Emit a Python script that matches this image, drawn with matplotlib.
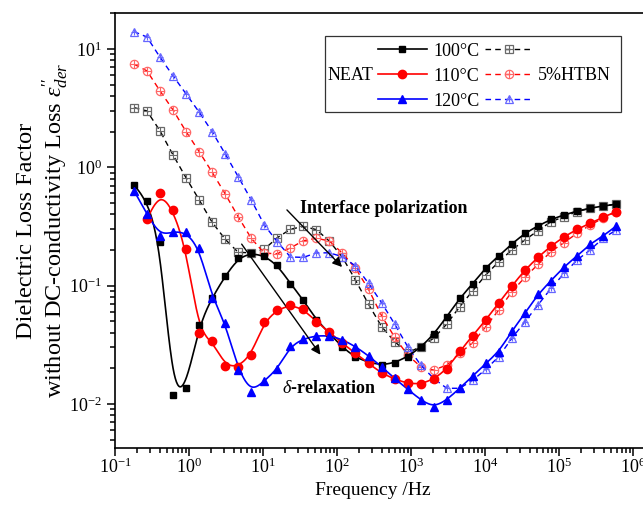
import numpy as np
import matplotlib.pyplot as plt
from matplotlib.lines import Line2D
from matplotlib.patches import Rectangle
from matplotlib.legend_handler import HandlerTuple

plt.rcParams["font.family"] = ["Liberation Serif", "DejaVu Serif"]
plt.rcParams["mathtext.fontset"] = "custom"
plt.rcParams["mathtext.rm"] = "Liberation Serif"
plt.rcParams["mathtext.it"] = "Liberation Serif:italic"
plt.rcParams["mathtext.bf"] = "Liberation Serif:bold"

# measurement frequencies (Hz)
freq = [0.18, 0.27, 0.405, 0.608, 0.911, 1.37, 2.05, 3.08, 4.61, 6.92,
        10.4, 15.6, 23.4, 35.0, 52.6, 78.8, 118, 177, 266, 399,
        599, 898, 1350, 2020, 3030, 4550, 6820, 10200, 15300, 23000,
        34500, 51800, 77700, 117000, 175000, 262000, 393000, 590000]

# NEAT epoxy, eps''_der
neat_100 = [0.708, 0.522, 0.232, 0.0120, 0.0137, 0.0465, 0.079, 0.120, 0.170, 0.188,
            0.178, 0.149, 0.104, 0.0755, 0.0512, 0.0395, 0.0301, 0.0247, 0.0225, 0.0213,
            0.0223, 0.0251, 0.0301, 0.0387, 0.0546, 0.0782, 0.104, 0.142, 0.178, 0.225,
            0.277, 0.319, 0.363, 0.395, 0.427, 0.450, 0.471, 0.487]
neat_110 = [0.363, 0.610, 0.436, 0.204, 0.040, 0.0342, 0.0209, 0.0206, 0.0259,
            0.0495, 0.0622, 0.0686, 0.0631, 0.0495, 0.0403, 0.0325, 0.0268, 0.0220, 0.0182,
            0.0162, 0.0149, 0.0147, 0.0162, 0.0196, 0.0280, 0.0377, 0.0512, 0.0716, 0.0993,
            0.1355, 0.1735, 0.216, 0.259, 0.299, 0.336, 0.378, 0.422]
neat_120 = [0.634, 0.403, 0.264, 0.286, 0.282, 0.209, 0.0791, 0.0486, 0.0194, 0.0125,
            0.0157, 0.0196, 0.0308, 0.0354, 0.0377, 0.0377, 0.0350, 0.0305, 0.0255, 0.0206,
            0.0164, 0.0133, 0.0108, 0.00936, 0.0108, 0.0136, 0.0172, 0.0220, 0.0276, 0.0413,
            0.0583, 0.0844, 0.110, 0.1445, 0.178, 0.225, 0.262, 0.319]

# 5% HTBN modified epoxy
htbn_100 = [3.19, 2.99, 2.03, 1.27, 0.815, 0.530, 0.343, 0.246, 0.191, 0.189,
            0.203, 0.254, 0.299, 0.316, 0.297, 0.237, 0.1735, 0.1114, 0.0695, 0.0450,
            0.0336, 0.0270, 0.0305, 0.0359, 0.0473, 0.0664, 0.0906, 0.123, 0.159, 0.200,
            0.243, 0.291, 0.347, 0.382, 0.422, 0.450, 0.471, 0.487]
htbn_110 = [7.43, 6.52, 4.42, 3.05, 2.00, 1.355, 0.908, 0.595, 0.382, 0.251,
            0.1875, 0.186, 0.208, 0.239, 0.251, 0.238, 0.1875, 0.140, 0.093, 0.0557,
            0.0366, 0.0259, 0.0206, 0.0193, 0.0213, 0.0269, 0.0329, 0.0450, 0.0622, 0.0888,
            0.1175, 0.151, 0.194, 0.231, 0.277, 0.325, 0.371, 0.422]
htbn_120 = [14.0, 12.6, 8.51, 5.92, 4.17, 2.92, 2.00, 1.295, 0.833, 0.530,
            0.325, 0.234, 0.1745, 0.173, 0.189, 0.189, 0.1755, 0.1465, 0.1045, 0.0716,
            0.0473, 0.0305, 0.0213, 0.0164, 0.01355, 0.01355, 0.0159, 0.0196, 0.0251, 0.0359,
            0.0495, 0.0686, 0.0948, 0.127, 0.1644, 0.200, 0.251, 0.295]

temps = ["100°C", "110°C", "120°C"]
neat_colors = ["#000000", "#ff0000", "#0000ff"]
htbn_edge = ["#6a6a6a", "#ff6666", "#6666ff"]
neat_markers = ["s", "o", "^"]


def bspline(x, y, n=24):
    # uniform cubic B-spline through log-log control points, clamped ends
    lx = np.log10(x)
    ly = np.log10(y)
    px = np.concatenate([[lx[0]] * 2, lx, [lx[-1]] * 2])
    py = np.concatenate([[ly[0]] * 2, ly, [ly[-1]] * 2])
    t = np.linspace(0, 1, n)
    b0 = (1 - t) ** 3 / 6
    b1 = (3 * t ** 3 - 6 * t ** 2 + 4) / 6
    b2 = (-3 * t ** 3 + 3 * t ** 2 + 3 * t + 1) / 6
    b3 = t ** 3 / 6
    xs, ys = [], []
    for i in range(len(px) - 3):
        xs.append(b0 * px[i] + b1 * px[i + 1] + b2 * px[i + 2] + b3 * px[i + 3])
        ys.append(b0 * py[i] + b1 * py[i + 1] + b2 * py[i + 2] + b3 * py[i + 3])
    return 10 ** np.concatenate(xs), 10 ** np.concatenate(ys)


fig = plt.figure(figsize=(6.43, 5.08), dpi=100)
ax = fig.add_axes([115 / 643, 60 / 508, 533 / 643, 435 / 508])
ax.set_xscale("log")
ax.set_yscale("log")

f = np.array(freq)
neat = [(f, neat_100), (f[1:], neat_110), (f, neat_120)]
htbn = [htbn_100, htbn_110, htbn_120]

handles_neat, handles_htbn = [], []
for k in range(3):
    ln, = ax.plot(f, htbn[k], color=neat_colors[k], lw=1.0, ls=(0, (4, 3)),
                  marker=neat_markers[k], ms=6 if k != 0 else 5.5, mfc="none",
                  mec=htbn_edge[k], mew=0.9, zorder=2)
    pl, = ax.plot(f, htbn[k], ls="none", marker="+", ms=5.5 if k != 2 else 4.5,
                  mec=htbn_edge[k], mew=0.8, zorder=2)
    handles_htbn.append((ln, pl))

for k in range(3):
    fx, fy = neat[k]
    sx, sy = bspline(fx, fy)
    ax.plot(sx, sy, color=neat_colors[k], lw=1.2, zorder=3)
    ax.plot(fx, fy, ls="none", marker=neat_markers[k], ms=5 if k == 0 else 6,
            color=neat_colors[k], zorder=4)
    handles_neat.append(Line2D([], [], color=neat_colors[k], lw=1.2,
                               marker=neat_markers[k], ms=5 if k == 0 else 6))

ax.set_xlim(0.1, 10 ** 6.2)
ax.set_ylim(0.00424, 20.1)

ax.spines["right"].set_visible(False)
for s in ax.spines.values():
    s.set_linewidth(1.2)
ax.tick_params(which="both", direction="out", width=1.1, labelsize=13, top=False, right=False)
ax.tick_params(which="major", length=6)
ax.tick_params(which="minor", length=3.5)
ax.tick_params(axis="x", which="major", pad=1)

ax.set_xlabel("Frequency /Hz", fontsize=14)
ax.xaxis.set_label_coords((373 - 115) / 533, -0.078)
ax.set_ylabel("Dielectric Loss Factor\nwithout DC-conductivity Loss $\\varepsilon^{\\prime\\prime}_{der}$",
              fontsize=17.5, linespacing=1.15)
ax.yaxis.set_label_coords((70 - 115) / 533, 0.5)

# process arrows
ax.annotate("", xy=(124, 0.138), xytext=(19.8, 0.453),
            arrowprops=dict(arrowstyle="-|>", color="black", lw=1.0, mutation_scale=14))
ax.annotate("", xy=(62.7, 0.0249), xytext=(4.89, 0.234),
            arrowprops=dict(arrowstyle="-|>", color="black", lw=1.0, mutation_scale=14))
ax.text(31.6, 0.445, "Interface polarization", fontsize=13, fontweight="bold",
        va="center", ha="left")
ax.text(18.1, 0.0134, "$\\mathit{\\delta}$-relaxation", fontsize=13, fontweight="bold",
        va="center", ha="left")

# legend: NEAT column with filled markers, 5%HTBN column with crossed open markers
leg = ax.legend(handles_neat + handles_htbn, temps + ["", "", ""], ncol=2,
                handler_map={tuple: HandlerTuple(ndivide=1)},
                loc="upper left", bbox_to_anchor=(378 / 643, 1 - 42.5 / 508),
                bbox_transform=fig.transFigure, frameon=False, fontsize=13,
                handlelength=2.7, handletextpad=0.35, columnspacing=0.3,
                labelspacing=0.45, borderpad=0, borderaxespad=0)
fig.add_artist(Rectangle((325 / 643, 1 - 112 / 508), 296 / 643, 76 / 508,
                         transform=fig.transFigure, fill=False, ec="#333333", lw=0.9))
fig.text(328 / 643, 1 - 75 / 508, "NEAT", fontsize=13, va="center", ha="left")
fig.text(538 / 643, 1 - 75 / 508, "5%HTBN", fontsize=13, va="center", ha="left")

fig.savefig("out.png", dpi=100)
